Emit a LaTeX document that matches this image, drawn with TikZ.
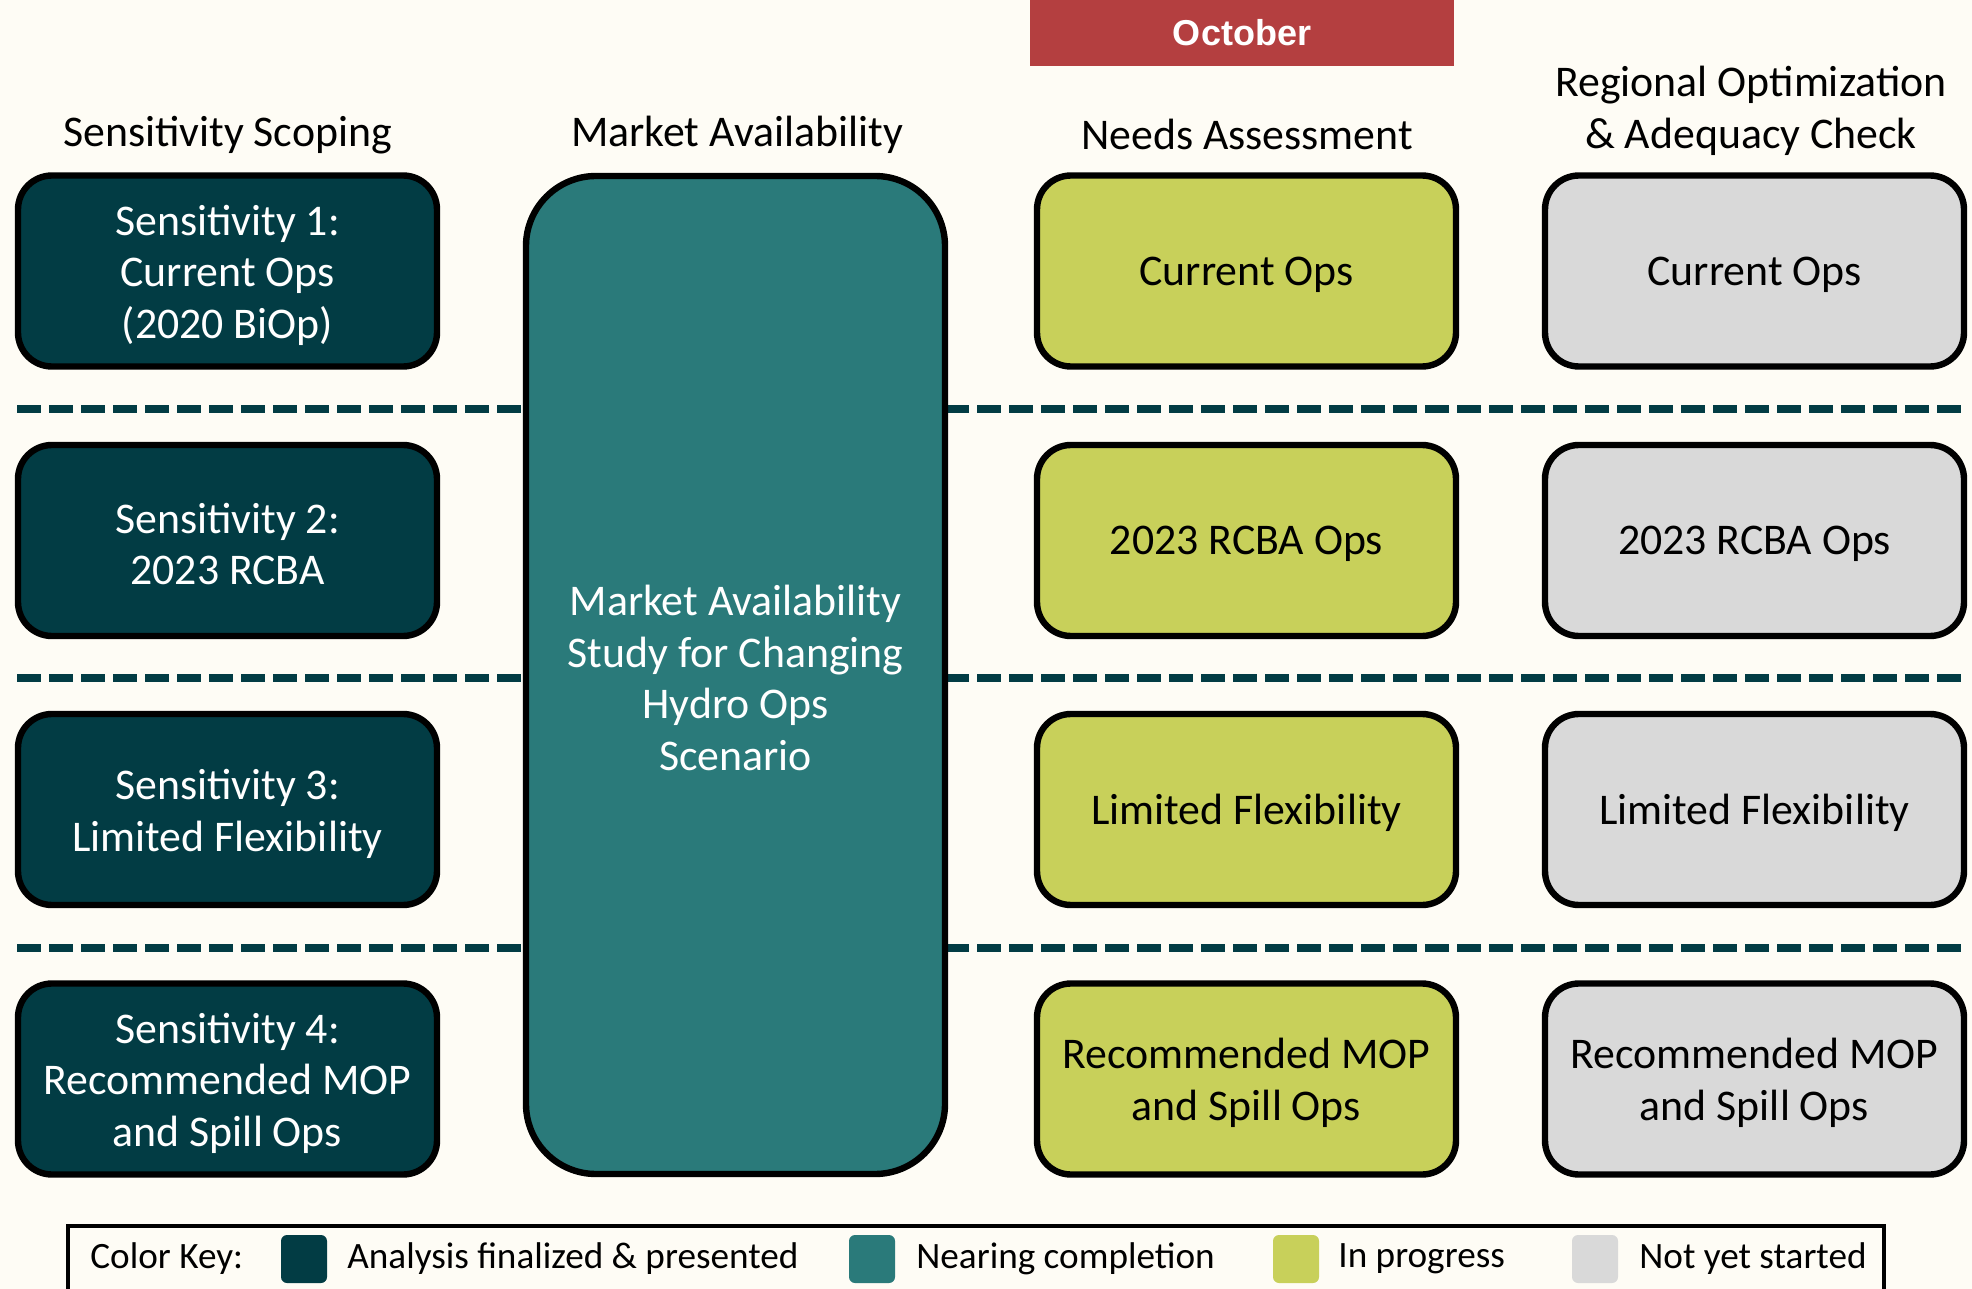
\documentclass[tikz,border=0pt]{standalone}
\usepackage{fontspec}
\setmainfont{Carlito}
\newfontfamily\boldsans{Liberation Sans}
\definecolor{bgc}{HTML}{FEFCF5}
\definecolor{darkteal}{HTML}{023C44}
\definecolor{midteal}{HTML}{2A7A7A}
\definecolor{lime}{HTML}{C8D05A}
\definecolor{greyc}{HTML}{D9D9D9}
\definecolor{redc}{HTML}{B43F40}
\tikzset{
  mainfont/.style={font=\fontsize{21.9}{25.8}\selectfont},
  stagebox/.style={draw=black, line width=3.2pt, rounded corners=17pt, minimum width=209.5pt, minimum height=95.5pt, align=center, inner sep=0pt, mainfont},
  finalbox/.style={stagebox, fill=darkteal, text=white},
  nearbox/.style={stagebox, fill=midteal, text=white, rounded corners=35pt, minimum height=499pt},
  progbox/.style={stagebox, fill=lime, text=black},
  notbox/.style={stagebox, fill=greyc, text=black},
  header/.style={align=center, mainfont, text=black, inner sep=0pt},
  divider/.style={draw=darkteal, line width=4pt, dash pattern=on 12pt off 4pt},
  swatch/.style={rounded corners=3pt, minimum width=23pt, minimum height=24pt, inner sep=0pt},
  keytext/.style={anchor=west, inner sep=0pt, font=\fontsize{18.6}{22}\selectfont}
}
\begin{document}
\begin{tikzpicture}[x=0.5pt, y=-0.5pt]
\fill[bgc] (0,0) rectangle (1972,1289);
\useasboundingbox (0,0) rectangle (1972,1289);
% dividers
\coordinate (d1a) at (17,409); \coordinate (d1b) at (1962,409);
\coordinate (d2a) at (17,678); \coordinate (d2b) at (1962,678);
\coordinate (d3a) at (17,948); \coordinate (d3b) at (1962,948);
\draw[divider] (d1a) -- (d1b);
\draw[divider] (d2a) -- (d2b);
\draw[divider] (d3a) -- (d3b);
% October banner
\node[fill=redc, minimum width=212pt, minimum height=33pt, inner sep=0pt, text=white, font=\boldsans\bfseries\fontsize{18}{21}\selectfont] (oct) at (1242,33) {October};
% headers
\node[header] (h1) at (227.5,135) {Sensitivity Scoping};
\node[header] (h2) at (737,135) {Market Availability};
\node[header] (h3) at (1247,134) {Needs Assessment};
\node[header] (h4) at (1751,111) {Regional Optimization\\\& Adequacy Check};
% column 1
\node[finalbox] (s1) at (227.5,271) {};
\node[text=white, mainfont, align=center] (s1t) at (227.5,275) {Sensitivity 1:\\Current Ops\\(2020 BiOp)};
\node[finalbox] (s2) at (227.5,540.5) {};
\node[text=white, mainfont, align=center] (s2t) at (227.5,544) {Sensitivity 2:\\2023 RCBA};
\node[finalbox] (s3) at (227.5,809.5) {};
\node[text=white, mainfont, align=center] (s3t) at (227.5,814) {Sensitivity 3:\\Limited Flexibility};
\node[finalbox] (s4) at (227.5,1079) {};
\node[text=white, mainfont, align=center] (s4t) at (227.5,1083) {Sensitivity 4:\\Recommended MOP\\and Spill Ops};
% market
\node[nearbox] (m) at (735.5,675) {};
\node[text=white, mainfont, align=center] (mt) at (735.5,678) {Market Availability\\Study for Changing\\Hydro Ops\\Scenario};
% needs
\node[progbox] (n1) at (1246.5,271) {};
\node[mainfont] (n1t) at (1246.5,275) {Current Ops};
\node[progbox] (n2) at (1246.5,540.5) {};
\node[mainfont] (n2t) at (1246.5,544) {2023 RCBA Ops};
\node[progbox] (n3) at (1246.5,809.5) {};
\node[mainfont] (n3t) at (1246.5,813) {Limited Flexibility};
\node[progbox] (n4) at (1246.5,1079) {};
\node[mainfont, align=center] (n4t) at (1246.5,1083) {Recommended MOP\\and Spill Ops};
% regional
\node[notbox] (r1) at (1754.5,271) {};
\node[mainfont] (r1t) at (1754.5,275) {Current Ops};
\node[notbox] (r2) at (1754.5,540.5) {};
\node[mainfont] (r2t) at (1754.5,544) {2023 RCBA Ops};
\node[notbox] (r3) at (1754.5,809.5) {};
\node[mainfont] (r3t) at (1754.5,813) {Limited Flexibility};
\node[notbox] (r4) at (1754.5,1079) {};
\node[mainfont, align=center] (r4t) at (1754.5,1083) {Recommended MOP\\and Spill Ops};
% legend
\draw[line width=2pt, fill=bgc] (68,1226) rectangle (1884,1300);
\node[keytext] (k0) at (90,1259) {Color Key:};
\node[swatch, fill=darkteal] (k1s) at (304,1259) {};
\node[keytext] (k1) at (347,1259) {Analysis finalized \& presented};
\node[swatch, fill=midteal] (k2s) at (872,1259) {};
\node[keytext] (k2) at (916,1259) {Nearing completion};
\node[swatch, fill=lime] (k3s) at (1296,1259) {};
\node[keytext] (k3) at (1338,1259) {In progress};
\node[swatch, fill=greyc] (k4s) at (1595,1259) {};
\node[keytext] (k4) at (1639,1259) {Not yet started};
\end{tikzpicture}
\end{document}
